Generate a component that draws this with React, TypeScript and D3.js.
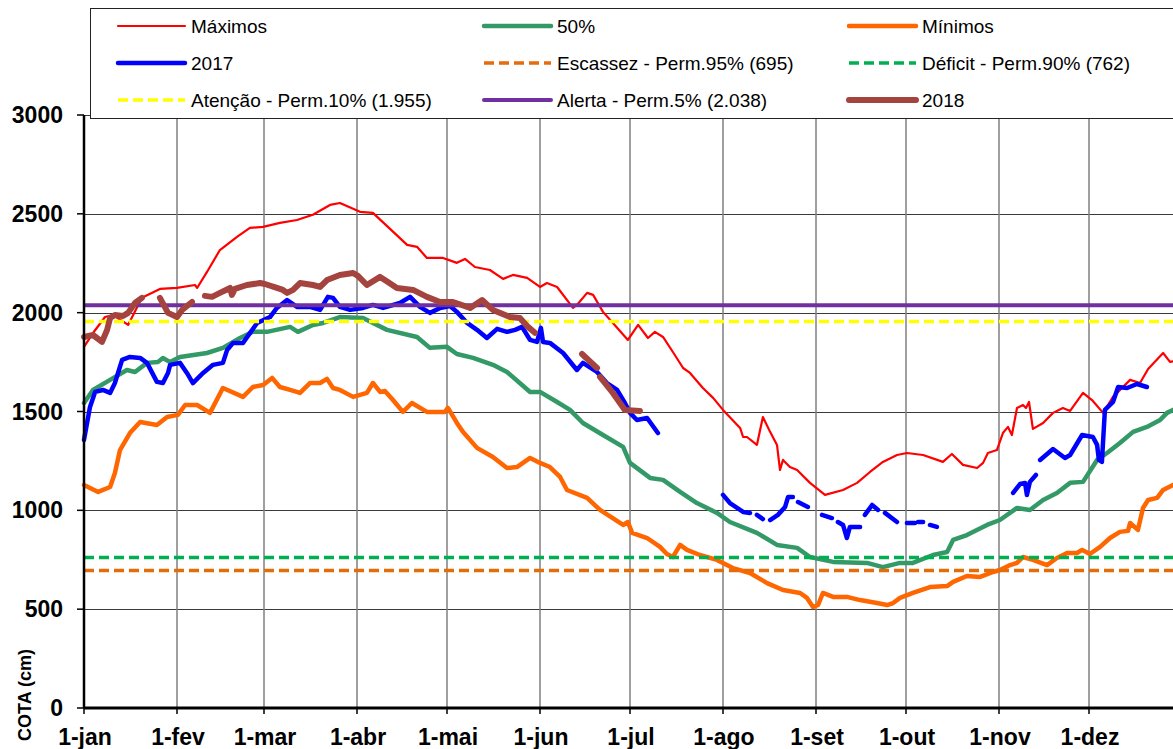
import React from 'react';
import * as d3 from 'd3';

type Pt = [number, number | null];

// day of year (leap year, 0 = 1-jan), value in cm
const maximos: Pt[] = [
  [0, 1827], [3, 1897], [7, 1978], [9.7, 1988], [14.7, 1938], [19.3, 2075], [25.3, 2120], [31, 2125],
  [37, 2140], [37.7, 2125], [41, 2206], [45.3, 2317], [51, 2383], [55.3, 2429], [59.7, 2434], [65.3, 2454],
  [71, 2469], [76.3, 2495], [82, 2545], [85.3, 2555], [92, 2510], [96.3, 2505], [101.3, 2434], [107.7, 2343],
  [111, 2333], [114.3, 2277], [119.7, 2277], [124.3, 2252], [127, 2272], [130.3, 2231], [135.3, 2216],
  [139.7, 2171], [143, 2191], [147.7, 2176], [152, 2130], [154.3, 2150], [157.7, 2130], [163, 2024],
  [164.3, 2039], [167.7, 2100], [169.7, 2090], [173, 2004], [176.3, 1948], [181.3, 1862], [184.7, 1938],
  [188, 1872], [190.3, 1903], [193, 1877], [196.3, 1801], [199.7, 1720], [202, 1695], [206.3, 1619],
  [209.7, 1569], [213, 1508], [218.7, 1417], [219.7, 1371], [221, 1371], [224.3, 1331], [226.3, 1472],
  [228.7, 1397], [231, 1331], [232, 1204], [233, 1255], [235.3, 1219], [237.7, 1204], [242, 1139],
  [247, 1078], [253, 1103], [257.7, 1139], [262, 1194], [266.3, 1245], [271, 1280], [274.3, 1290],
  [279.7, 1280], [286.3, 1245], [289.3, 1285], [293, 1230], [297.7, 1214], [299.7, 1240], [301.3, 1290],
  [304.3, 1305], [306.3, 1391], [308, 1422], [309.3, 1381], [311, 1518], [313, 1533], [314, 1518],
  [315, 1548], [316.3, 1412], [319.7, 1442], [323, 1493], [326.3, 1518], [328.7, 1503], [333, 1594],
  [336, 1558], [339.7, 1493], [343, 1574], [348.7, 1660], [352, 1644], [354.7, 1715], [359.7, 1796],
  [362, 1751], [366, 1760],
];

const mediana: Pt[] = [
  [0, 1543], [3, 1609], [8.7, 1660], [14.3, 1710], [17, 1700], [21, 1746], [24.7, 1751], [26.3, 1771],
  [28.7, 1750], [32, 1776], [41, 1796], [46.3, 1822], [52, 1872], [56.3, 1903], [61, 1903], [68.7, 1928],
  [71.3, 1903], [76.3, 1938], [79.7, 1948], [85.3, 1978], [93, 1973], [101, 1913], [111, 1877],
  [115.3, 1822], [121, 1827], [124.3, 1791], [129.7, 1771], [136.3, 1736], [141, 1700], [148.7, 1599],
  [152, 1599], [157.7, 1548], [162, 1508], [166.3, 1442], [173, 1381], [179.7, 1321], [182, 1240],
  [188.7, 1164], [193, 1154], [198.7, 1093], [204.3, 1037], [211, 987], [215.3, 941], [224.3, 886],
  [231, 825], [237.7, 810], [242, 764], [249.7, 739], [261, 734], [266.3, 713], [272, 734], [276.3, 734],
  [283, 774], [287.7, 789], [289.7, 850], [294.3, 875], [301, 926], [305.3, 951], [311, 1012],
  [315.3, 1002], [319.7, 1052], [324.3, 1088], [328.7, 1139], [333, 1144], [337.7, 1255], [341, 1290],
  [345.3, 1341], [349.7, 1397], [354.3, 1422], [358.7, 1457], [361, 1493], [366, 1530],
];

const minimos: Pt[] = [
  [0, 1128], [4.7, 1093], [8.7, 1118], [10.3, 1189], [12, 1305], [15.3, 1391], [18.7, 1447], [24.3, 1432],
  [27.7, 1472], [31.3, 1483], [33.7, 1533], [37.7, 1533], [42, 1493], [46.3, 1619], [53, 1574],
  [56.3, 1624], [59.7, 1634], [62.7, 1670], [65.3, 1624], [68.7, 1609], [72, 1594], [75.3, 1644],
  [78.7, 1644], [81, 1665], [83, 1619], [85.3, 1609], [89.7, 1574], [94.3, 1594], [96.3, 1644],
  [98.7, 1599], [100.3, 1604], [103, 1558], [106.3, 1498], [109.3, 1543], [114.3, 1498], [120.3, 1498],
  [121.3, 1518], [124.3, 1442], [126.3, 1397], [131, 1316], [136.3, 1270], [141, 1214], [144.3, 1219],
  [148.7, 1265], [152, 1240], [155.3, 1219], [158.7, 1169], [161, 1103], [167.7, 1063], [172, 1002],
  [179.7, 926], [181.3, 941], [182.7, 886], [187.7, 860], [192, 815], [194.3, 779], [196.3, 764],
  [198.7, 825], [201, 800], [205.3, 774], [211, 749], [216.3, 708], [222, 683], [227.7, 632], [233, 597],
  [238.7, 582], [241, 557], [243, 511], [244.7, 521], [246.3, 582], [249.7, 562], [254.3, 562],
  [258.7, 546], [264.3, 531], [267.7, 521], [269.7, 531], [272, 557], [276.3, 582], [282, 612],
  [287.7, 617], [289.7, 638], [294.3, 668], [298.7, 663], [303, 688], [305.3, 698], [308.7, 723],
  [311, 734], [313, 764], [316.3, 749], [321, 723], [324.3, 759], [327.7, 784], [331, 784], [332.7, 800],
  [335.3, 779], [338.7, 815], [342, 860], [345.3, 891], [348, 896], [348.7, 936], [351.3, 901],
  [353, 1012], [354.7, 1052], [357.7, 1063], [359.7, 1103], [363, 1128], [366, 1140],
];

const ano2017: Pt[] = [
  [0, 1356], [2, 1523], [3.7, 1599], [6.3, 1609], [8.7, 1594], [10.3, 1644], [12.7, 1761], [15.3, 1776],
  [18.7, 1771], [21, 1746], [24.3, 1650], [26.3, 1644], [28, 1695], [28.7, 1736], [32, 1746], [34.3, 1695],
  [36.3, 1644], [39.7, 1695], [43, 1736], [46.3, 1746], [47.7, 1811], [49.7, 1847], [53, 1847],
  [57.7, 1948], [62, 1978], [64.3, 2024], [67.7, 2064], [71, 2029], [75.3, 2029], [78.7, 2014],
  [81.3, 2080], [83, 2075], [85.3, 2029], [88.7, 2014], [93, 2024], [96.3, 2039], [99.7, 2024],
  [105.3, 2049], [108.7, 2080], [112, 2029], [115.3, 1999], [118.7, 2024], [122, 2034], [124.3, 2004],
  [127.7, 1948], [131, 1913], [134.3, 1872], [137.7, 1918], [141, 1903], [143.7, 1913], [146, 1928],
  [148.7, 1862], [151, 1852], [152.3, 1923], [153, 1852], [155.3, 1847], [159.7, 1796], [164.3, 1710],
  [166.3, 1746], [171, 1700], [174.3, 1644], [177.7, 1609], [180.3, 1543], [182, 1493], [184.3, 1457],
  [187.7, 1467], [191.3, 1391], [192, null],
  [213, 1078], [215.3, 1037], [219.7, 992], [222, 987], [223, null],
  [224.3, 977], [226.3, 956], [227, null],
  [228.7, 951], [231.3, 977], [233.7, 1017], [234.7, 1068], [236.3, 1068], [237, null],
  [238, 1042], [241.3, 1017], [242, null],
  [246, 977], [249.3, 961], [250, null],
  [251.3, 941], [253, 926], [254.3, 860], [255.3, 916], [258.7, 916], [259.5, null],
  [260.3, 977], [262.7, 1027], [264.7, 1002], [265.5, null],
  [267, 987], [271, 941], [272, null],
  [274.3, 936], [277, 936], [277.5, null],
  [278, 941], [279.7, 941], [280.5, null],
  [282, 926], [284.3, 916], [285, null],
  [309.7, 1088], [312, 1133], [313.7, 1138], [314.3, 1078], [315.3, 1144], [317.3, 1179], [318, null],
  [318.7, 1255], [323, 1310], [327, 1265], [328.7, 1280], [332.7, 1381], [336.3, 1371], [337.7, 1331],
  [338.3, 1255], [339.3, 1245], [340.3, 1508], [343, 1548], [344.7, 1624], [347.7, 1619], [351, 1639],
  [354.3, 1624],
];

const ano2018: Pt[] = [
  [0, 1877], [3, 1887], [6, 1852], [7.7, 1913], [8.7, 1973], [10.3, 1988], [13, 1983], [14.7, 1999],
  [17, 2049], [19.3, 2075], [20, null],
  [25.3, 2075], [28, 1999], [31, 1978], [32.7, 2014], [36, 2054], [37, null],
  [40.3, 2085], [42.7, 2080], [45.3, 2100], [48.7, 2125], [49.3, 2090], [50.3, 2120], [54.3, 2140],
  [58.7, 2150], [60.3, 2145], [64.3, 2125], [66.3, 2115], [67.7, 2100], [69.7, 2115], [72, 2150],
  [76.3, 2140], [78.7, 2130], [81, 2165], [85.3, 2191], [89.7, 2201], [91.3, 2186], [94.3, 2140],
  [98.7, 2181], [101.3, 2155], [104.3, 2125], [109.7, 2115], [114.3, 2080], [118.7, 2054], [123, 2054],
  [128.7, 2024], [132.7, 2064], [136.3, 2014], [142, 1978], [145.3, 1973], [148, 1928], [150.3, 1898],
  [151, null],
  [166, 1791], [171, 1720], [171.5, null],
  [172, 1675], [176.3, 1594], [180.3, 1508], [185.3, 1503],
];

const escassez = 695;
const deficit = 762;
const atencao = 1955;
const alerta = 2038;

const monthDays = [0, 31, 60, 91, 121, 152, 182, 213, 244, 274, 305, 335];
const monthLabels = ['1-jan', '1-fev', '1-mar', '1-abr', '1-mai', '1-jun', '1-jul', '1-ago', '1-set', '1-out', '1-nov', '1-dez'];
const yTicks = [0, 500, 1000, 1500, 2000, 2500, 3000];

const legendLabels = [
  ['Máximos', '50%', 'Mínimos'],
  ['2017', 'Escassez - Perm.95% (695)', 'Déficit - Perm.90% (762)'],
  ['Atenção - Perm.10% (1.955)', 'Alerta - Perm.5% (2.038)', '2018'],
];

type Style = { color: string; width: number; dash?: string; cap?: 'round' | 'butt' };
const styles: Record<string, Style> = {
  'Máximos': { color: '#FF0000', width: 2.2 },
  '50%': { color: '#339966', width: 4.5 },
  'Mínimos': { color: '#FF6600', width: 4.5 },
  '2017': { color: '#0000FF', width: 4.5 },
  'Escassez - Perm.95% (695)': { color: '#E46C0A', width: 3.5, dash: '10,5', cap: 'butt' },
  'Déficit - Perm.90% (762)': { color: '#00B050', width: 3.5, dash: '10,5', cap: 'butt' },
  'Atenção - Perm.10% (1.955)': { color: '#FFFF00', width: 3.5, dash: '10,5', cap: 'butt' },
  'Alerta - Perm.5% (2.038)': { color: '#7030A0', width: 4 },
  '2018': { color: '#A5443F', width: 6 },
};

const FONT = 'Arial, "Liberation Sans", sans-serif';

export default function App() {
  const x = d3.scaleLinear().domain([0, 366]).range([84, 1182]);
  const y = d3.scaleLinear().domain([0, 3000]).range([708, 115]);
  const line = d3
    .line<Pt>()
    .defined((d) => d[1] !== null)
    .x((d) => x(d[0]))
    .y((d) => y(d[1] as number));

  const series: [string, Pt[]][] = [
    ['Máximos', maximos],
    ['50%', mediana],
    ['Mínimos', minimos],
    ['2017', ano2017],
  ];
  const thresholds: [string, number][] = [
    ['Escassez - Perm.95% (695)', escassez],
    ['Déficit - Perm.90% (762)', deficit],
    ['Atenção - Perm.10% (1.955)', atencao],
    ['Alerta - Perm.5% (2.038)', alerta],
  ];

  const legendCols = [118, 484, 849];
  const legendRows = [26, 63, 100];
  const sampleLen = 67;
  const [x0, x1] = x.range();

  return (
    <svg
      width={1173}
      height={749}
      style={{ position: 'absolute', left: 0, top: 0, display: 'block', background: '#fff' }}
    >
      <rect x={0} y={0} width={1173} height={749} fill="#fff" />
      {/* horizontal grid */}
      {yTicks.filter((t) => t > 0).map((t) => (
        <line key={'h' + t} x1={x0} x2={x1} y1={Math.round(y(t)) + 0.5} y2={Math.round(y(t)) + 0.5} stroke="#3a3a3a" strokeWidth={1} />
      ))}
      {/* vertical grid */}
      {monthDays.slice(1).map((d) => (
        <line key={'v' + d} x1={x(d)} x2={x(d)} y1={y(3000)} y2={y(0)} stroke="#7f7f7f" strokeWidth={1.5} />
      ))}
      {/* series */}
      {series.map(([name, data]) => {
        const s = styles[name];
        return (
          <path key={name} d={line(data) || ''} fill="none" stroke={s.color} strokeWidth={s.width}
            strokeLinejoin="round" strokeLinecap="round" />
        );
      })}
      {thresholds.map(([name, v]) => {
        const s = styles[name];
        return (
          <line key={name} x1={x0} x2={x1} y1={y(v)} y2={y(v)} stroke={s.color} strokeWidth={s.width}
            strokeDasharray={s.dash} strokeLinecap={s.cap || 'butt'} />
        );
      })}
      <path d={line(ano2018) || ''} fill="none" stroke={styles['2018'].color} strokeWidth={styles['2018'].width}
        strokeLinejoin="round" strokeLinecap="round" />
      {/* axes */}
      <line x1={x0} x2={x0} y1={y(3000)} y2={y(0)} stroke="#000" strokeWidth={2.5} />
      <line x1={x0} x2={x1} y1={y(0)} y2={y(0)} stroke="#000" strokeWidth={3} />
      {yTicks.map((t) => (
        <g key={'yt' + t}>
          <line x1={x0 - 7} x2={x0} y1={y(t)} y2={y(t)} stroke="#000" strokeWidth={1.5} />
          <text x={63} y={y(t) + 8} textAnchor="end" fontFamily={FONT} fontWeight="bold" fontSize={23} fill="#000">
            {t}
          </text>
        </g>
      ))}
      {monthDays.map((d, i) => (
        <g key={'xt' + d}>
          <line x1={x(d)} x2={x(d)} y1={y(0)} y2={y(0) + 6} stroke="#000" strokeWidth={1.5} />
          <text x={x(d) + 1} y={745} textAnchor="middle" fontFamily={FONT} fontWeight="bold" fontSize={23} fill="#000">
            {monthLabels[i]}
          </text>
        </g>
      ))}
      <text transform="translate(31,695) rotate(-90)" textAnchor="middle" fontFamily={FONT} fontWeight="bold" fontSize={18} fill="#000">
        COTA (cm)
      </text>
      {/* legend */}
      <rect x={90.5} y={8.5} width={1120} height={110} fill="#fff" stroke="#222" strokeWidth={1} />
      {legendLabels.map((row, ri) =>
        row.map((label, ci) => {
          const s = styles[label];
          const lx = legendCols[ci];
          const ly = legendRows[ri];
          return (
            <g key={label}>
              <line x1={lx} x2={lx + sampleLen} y1={ly} y2={ly} stroke={s.color} strokeWidth={s.width}
                strokeDasharray={s.dash} strokeLinecap={s.cap || 'round'} />
              <text x={lx + sampleLen + 6} y={ly + 7} fontFamily={FONT} fontSize={19} fill="#000">
                {label}
              </text>
            </g>
          );
        })
      )}
    </svg>
  );
}
